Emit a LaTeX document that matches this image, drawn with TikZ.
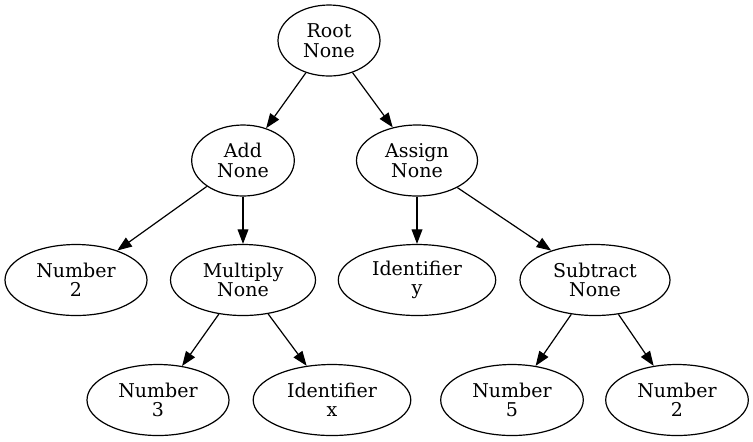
\documentclass[tikz,border=0pt]{standalone}
\usepackage{fontspec}
\setmainfont{DejaVu Serif}
\usetikzlibrary{arrows.meta,shapes.geometric}

\begin{document}
\begin{tikzpicture}[x=0.5pt,y=-0.5pt,
  astnode/.style={ellipse,draw,line width=0.6pt,inner sep=0pt,minimum height=35.5pt,align=center,font=\fontsize{9.5}{9.75}\selectfont},
  astedge/.style={line width=0.6pt,-{Triangle[length=7.3pt,width=5.4pt]}}]
\useasboundingbox (0,0) rectangle (753,441);
\node[astnode,minimum width=51pt] (root) at (329,40.5) {Root\\None};
\node[astnode,minimum width=51.3pt] (add) at (243,160.5) {Add\\None};
\node[astnode,minimum width=60.5pt] (assign) at (417,160.5) {Assign\\None};
\node[astnode,minimum width=71pt] (num2) at (76,280) {Number\\2};
\node[astnode,minimum width=72.5pt] (mult) at (243,280) {Multiply\\None};
\node[astnode,minimum width=78.7pt] (idy) at (417,280) {Identifier\\y};
\node[astnode,minimum width=75pt] (sub) at (595,280) {Subtract\\None};
\node[astnode,minimum width=71pt] (num3) at (158,400) {Number\\3};
\node[astnode,minimum width=78.8pt] (idx) at (332,400) {Identifier\\x};
\node[astnode,minimum width=71.3pt] (num5) at (512,400) {Number\\5};
\node[astnode,minimum width=71.3pt] (num2b) at (677,400) {Number\\2};
\draw[astedge] (root) -- (add);
\draw[astedge] (root) -- (assign);
\draw[astedge] (add) -- (num2);
\draw[astedge] (add) -- (mult);
\draw[astedge] (assign) -- (idy);
\draw[astedge] (assign) -- (sub);
\draw[astedge] (mult) -- (num3);
\draw[astedge] (mult) -- (idx);
\draw[astedge] (sub) -- (num5);
\draw[astedge] (sub) -- (num2b);
\end{tikzpicture}
\end{document}
